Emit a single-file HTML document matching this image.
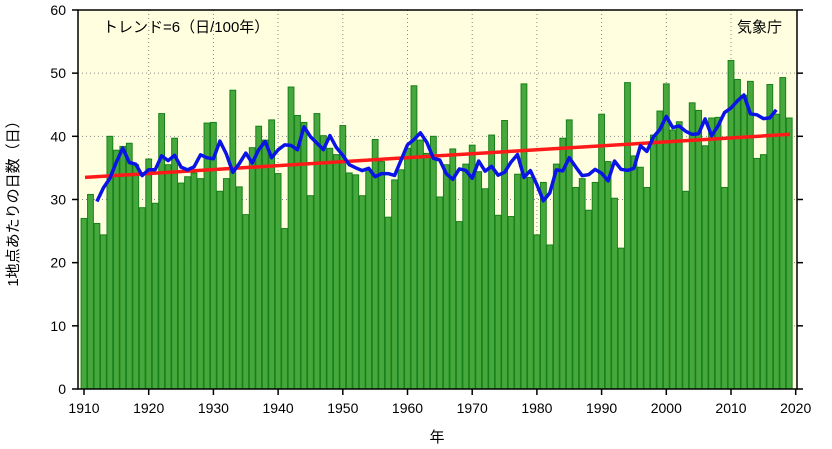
<!DOCTYPE html>
<html><head><meta charset="utf-8"><style>
html,body{margin:0;padding:0;background:#fff;}
svg{display:block;font-family:"Liberation Sans","Noto Sans CJK JP",sans-serif;}
</style></head><body>
<svg id="c" width="832" height="449" viewBox="0 0 832 449" xmlns="http://www.w3.org/2000/svg">
<rect x="78" y="10" width="719" height="379" fill="#ffffe0"/>
<g id="grid" stroke="#888" stroke-width="1" stroke-dasharray="1,3"></g>
<g id="bars" fill="#46a83c" stroke="#17801a" stroke-width="1"></g>
<line x1="85" y1="177.4" x2="790" y2="134.3" stroke="#ff1a1a" stroke-width="3.5"/>
<polyline id="ma" fill="none" stroke="#0a14e6" stroke-width="3.5" stroke-linejoin="round"/>
<rect x="78" y="10" width="719" height="379" fill="none" stroke="#000" stroke-width="1.5"/>
<g id="ticks" stroke="#000" stroke-width="1.5"></g>
<g id="lbl" font-size="14" fill="#000"></g>
<text x="103" y="32" font-size="15">トレンド=6（日/100年）</text>
<text x="782" y="32" font-size="15" text-anchor="end">気象庁</text>
<text x="437" y="442" font-size="15" text-anchor="middle">年</text>
<text transform="translate(18,200) rotate(-90)" font-size="15" text-anchor="middle">1地点あたりの日数（日）</text>
</svg>
<script>
var v=[27.0,30.8,26.2,24.4,40.0,37.8,38.4,38.9,35.5,28.7,36.4,29.4,43.6,35.5,39.7,32.6,33.6,34.2,33.3,42.1,
42.2,31.3,33.3,47.3,32.0,27.6,38.2,41.6,39.4,42.6,34.1,25.4,47.8,43.3,42.2,30.6,43.6,40.1,38.1,37.1,
41.7,34.2,33.9,30.6,34.7,39.5,36.0,27.2,33.1,34.7,38.1,48.0,39.4,37.3,40.0,30.4,35.5,38.0,26.5,35.6,
38.6,34.4,31.7,40.2,27.5,42.5,27.3,34.0,48.3,33.5,24.4,32.7,22.8,35.6,39.7,42.6,31.9,33.3,28.3,32.7,
43.5,36.0,30.2,22.3,48.5,36.9,35.1,31.9,40.2,44.0,48.3,41.0,42.3,31.3,45.3,44.1,38.5,42.9,43.0,31.9,
52.0,49.0,46.5,48.7,36.5,37.1,48.2,43.5,49.3,42.9];
var ns="http://www.w3.org/2000/svg";
function X(y){return 84+(y-1910)*6.47;}
function Y(d){return 389-d*6.317;}
function el(p,t,a){var e=document.createElementNS(ns,t);for(var k in a)e.setAttribute(k,a[k]);document.getElementById(p).appendChild(e);return e;}
for(var g=1920;g<=2010;g+=10)el('grid','line',{x1:X(g),x2:X(g),y1:10,y2:389});
for(var d=10;d<=50;d+=10)el('grid','line',{x1:78,x2:797,y1:Y(d),y2:Y(d)});
for(var i=0;i<v.length;i++){el('bars','rect',{x:X(1910+i)-2.9,y:Y(v[i]),width:5.8,height:v[i]*6.317});}
var pts=[];for(i=2;i<v.length-2;i++){var s=0;for(var j=-2;j<=2;j++)s+=v[i+j];pts.push(X(1910+i).toFixed(1)+","+Y(s/5).toFixed(1));}
document.getElementById('ma').setAttribute('points',pts.join(' '));
for(d=0;d<=60;d+=10){el('ticks','line',{x1:72,x2:78,y1:Y(d),y2:Y(d)});el('ticks','line',{x1:797,x2:803,y1:Y(d),y2:Y(d)});
var t=el('lbl','text',{x:66,y:Y(d)+5,'text-anchor':'end'});t.textContent=d;}
for(g=1910;g<=2020;g+=10){el('ticks','line',{x1:X(g),x2:X(g),y1:389,y2:395});var t2=el('lbl','text',{x:X(g),y:413,'text-anchor':'middle'});t2.textContent=g;}
</script>
</body></html>
